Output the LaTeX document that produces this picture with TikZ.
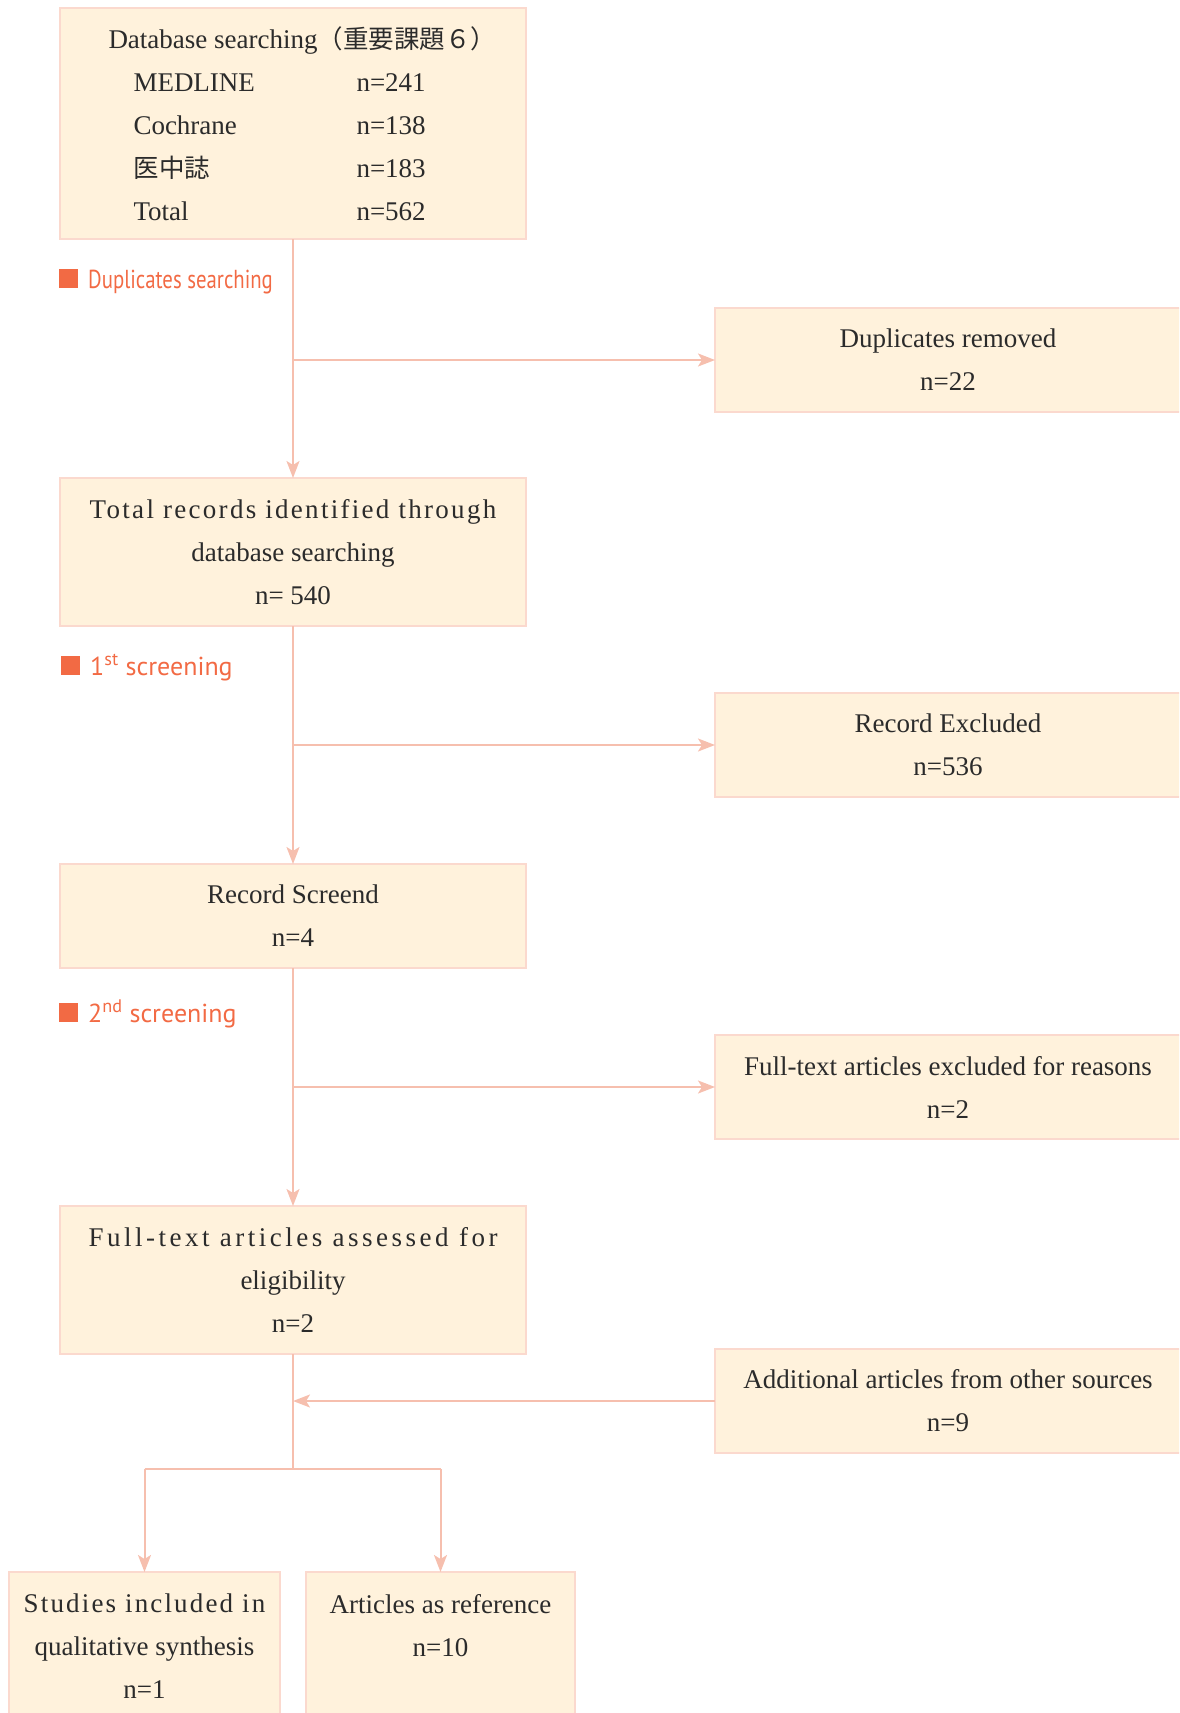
\documentclass[tikz,border=0pt]{standalone}
\usepackage{fontspec}
\setmainfont{Liberation Serif}
\newfontfamily\cjk{Noto Sans CJK JP}
\newfontfamily\labelfont{PT Sans}
\usepackage{graphicx}
\usepackage{xcolor}
\usepackage{tikz}
\usetikzlibrary{arrows.meta}
\usetikzlibrary{calc}
\definecolor{boxfill}{HTML}{FFF2DC}
\definecolor{boxline}{HTML}{FBD9CE}
\definecolor{flowline}{HTML}{F6BFAE}
\definecolor{stepcolor}{HTML}{F26A44}
\definecolor{textgray}{HTML}{2B2B2B}
\tikzstyle{box} = [rectangle, draw=boxline, line width=2.5pt, fill=boxfill, inner sep=0pt, outer sep=0pt, minimum width=466pt, minimum height=104pt, align=center, text=textgray, font=\fontsize{27}{43}\selectfont]
\tikzstyle{flow} = [draw=flowline, line width=2pt]
\tikzstyle{arrow} = [flow, -{Stealth[length=17pt,width=13pt,inset=4pt]}]
\tikzstyle{steplabel} = [anchor=base west, inner sep=0pt, text=stepcolor, font=\labelfont\fontsize{26}{30}\selectfont]
\newcommand{\stepmark}{\rule{19pt}{19pt}\hspace{10pt}}
\newcommand{\spread}[2]{{\addfontfeatures{LetterSpace=#1}#2}}
\newcommand{\dbrow}[2]{\hspace*{25pt}\makebox[223pt][l]{#1}#2}

\begin{document}
\begin{tikzpicture}[x=1pt,y=-1pt]
  \useasboundingbox (0,0) rectangle (1179,1713);
  \clip (0,0) rectangle (1179,1713);

  % main column
  \node[box, minimum height=231pt, align=left] (db) at (293,123.5) {\makebox[369pt][l]{Database searching{\cjk\fontsize{25.5}{43}\selectfont（重要課題６）}}\\
    \dbrow{MEDLINE}{n=241}\\
    \dbrow{Cochrane}{n=138}\\
    \dbrow{{\cjk\fontsize{25.5}{43}\selectfont 医中誌}}{n=183}\\
    \dbrow{Total}{n=562}};
  \node[box, minimum height=148pt] (total) at (293,552) {\spread{8.5}{Total records identified through}\\database searching\\n= 540};
  \node[box] (screened) at (293,916) {Record Screend\\n=4};
  \node[box, minimum height=148pt] (assessed) at (293,1280) {\spread{13}{Full-text articles assessed for}\\eligibility\\n=2};

  % side boxes
  \node[box] (dup) at (948,360) {Duplicates removed\\n=22};
  \node[box] (excl) at (948,745) {Record Excluded\\n=536};
  \node[box] (ftexcl) at (948,1087) {Full-text articles excluded for reasons\\n=2};
  \node[box] (addl) at (948,1401) {Additional articles from other sources\\n=9};

  % bottom row
  \node[box, minimum width=271pt, minimum height=149pt] (incl) at (144.5,1646.5) {\spread{8}{Studies included in}\\qualitative synthesis\\n=1};
  \node[box, minimum width=269pt, minimum height=149pt] (ref) at (440.5,1646.5) {Articles as reference\\n=10\\\mbox{}};

  \node[steplabel] (dupstep) at (59,288) {\stepmark\scalebox{0.8}[1]{Duplicates searching}};
  \node[steplabel] (firststep) at (61,675) {\stepmark 1\textsuperscript{st} screening};
  \node[steplabel] (secondstep) at (59,1022) {\stepmark 2\textsuperscript{nd} screening};

  \draw[arrow] (db) -- (total);
  \draw[arrow] (total) -- (screened);
  \draw[arrow] (screened) -- (assessed);
  \draw[arrow] (db.south |- dup.west) -- (dup.west);
  \draw[arrow] (total.south |- excl.west) -- (excl.west);
  \draw[arrow] (screened.south |- ftexcl.west) -- (ftexcl.west);
  \draw[arrow] (addl.west) -- (assessed.south |- addl.west);

  \coordinate (split) at (293,1469);
  \draw[flow] (assessed.south) -- (split);
  \draw[flow] (incl.north |- split) -- (ref.north |- split);
  \draw[arrow] (incl.north |- split) -- (incl.north);
  \draw[arrow] (ref.north |- split) -- (ref.north);
\end{tikzpicture}
\end{document}
